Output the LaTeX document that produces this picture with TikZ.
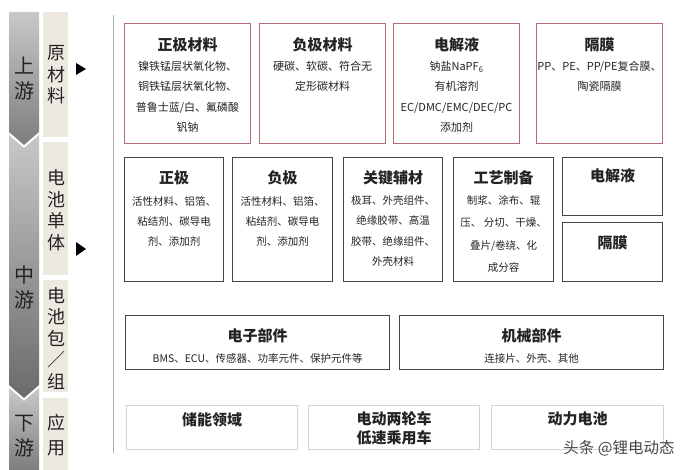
\documentclass[tikz,border=0pt]{standalone}
\usepackage{fontspec}
\usepackage{xcolor}
\setmainfont{Noto Sans CJK SC}
\definecolor{Chain-Red}{RGB}{178, 108, 114}
\definecolor{Chain-Dark}{RGB}{70, 70, 70}
\definecolor{Chain-Light}{RGB}{212, 212, 212}
\definecolor{Chain-Beige}{RGB}{237, 233, 225}
\definecolor{Chain-Rule}{RGB}{175, 175, 175}
\definecolor{Chain-Top}{RGB}{200, 200, 200}
\definecolor{Chain-Bottom}{RGB}{125, 125, 125}
\definecolor{Chain-Text}{RGB}{35, 35, 35}

\tikzset{
    rawbox/.style={draw=Chain-Red, line width=1.1pt, inner sep=0pt},
    cellbox/.style={draw=Chain-Dark, line width=1.2pt, inner sep=0pt},
    usebox/.style={draw=Chain-Light, line width=1.1pt, inner sep=0pt},
    boxtitle/.style={anchor=north, inner sep=0pt, align=center, text=Chain-Text,
        font=\fontsize{15}{19}\selectfont\bfseries},
    boxtext/.style={anchor=north, inner sep=0pt, align=center, text=Chain-Text,
        font=\fontsize{11}{20.5}\selectfont},
    stagetext/.style={inner sep=0pt, align=center, text=Chain-Text,
        font=\fontsize{20}{25}\selectfont},
    parttext/.style={inner sep=0pt, align=center, text=Chain-Text,
        font=\fontsize{18}{21.5}\selectfont},
    beigebar/.style={fill=Chain-Beige, draw=none, inner sep=0pt, anchor=north west, minimum width=25pt}
}

\begin{document}
\begin{tikzpicture}[x=1pt, y=-1pt]

    \useasboundingbox (0,0) rectangle (697,470);

    % stages
    \shade[top color=Chain-Top, bottom color=Chain-Bottom] (9,12) -- (39,12) -- (39,132) -- (24,145) -- (9,132) -- cycle;
    \shade[top color=Chain-Top, bottom color=Chain-Bottom!85!black] (9,135) -- (24,148) -- (39,135) -- (39,385) -- (24,398) -- (9,385) -- cycle;
    \shade[top color=Chain-Top, bottom color=Chain-Bottom] (9,388) -- (24,401) -- (39,388) -- (39,470) -- (9,470) -- cycle;

    \node[stagetext] (up) at (24,79) {上\\游};
    \node[stagetext] (mid) at (24,287) {中\\游};
    \node[stagetext] (down) at (24,436) {下\\游};

    \node[beigebar, minimum height=125pt] (rawbar) at (43,12) {};
    \node[beigebar, minimum height=133pt] (cellbar) at (43,142) {};
    \node[beigebar, minimum height=112pt] (packbar) at (43,280) {};
    \node[beigebar, minimum height=72pt] (appbar) at (43,398) {};

    \node[parttext] (raw) at (56,75) {原\\材\\料};
    \node[parttext] (cell) at (56,210) {电\\池\\单\\体};
    \node[parttext] (pack) at (56,338) {电\\池\\包\\／\\组};
    \node[parttext, font=\fontsize{18}{25}\selectfont] (app) at (56,435) {应\\用};

    \fill (76,63) -- (86,69) -- (76,75) -- cycle;
    \fill (76,242) -- (86,249) -- (76,256) -- cycle;

    \draw[Chain-Rule, line width=1pt] (113,15) -- (113,453);

    % raw materials
    \node[rawbox, minimum width=126pt, minimum height=120pt, anchor=north west] (cathodemat) at (124,23) {};
    \node[rawbox, minimum width=126pt, minimum height=120pt, anchor=north west] (anodemat) at (259,23) {};
    \node[rawbox, minimum width=126pt, minimum height=120pt, anchor=north west] (electrolytemat) at (393,23) {};
    \node[rawbox, minimum width=126pt, minimum height=120pt, anchor=north west] (separatormat) at (536,23) {};

    \node[boxtitle] at ([yshift=-14pt]cathodemat.north) {正极材料};
    \node[boxtext] at ([yshift=-38pt]cathodemat.north) {镍铁锰层状氧化物、\\铜铁锰层状氧化物、\\普鲁士蓝/白、氟磷酸\\钒钠};
    \node[boxtitle] at ([yshift=-14pt]anodemat.north) {负极材料};
    \node[boxtext] at ([yshift=-38pt]anodemat.north) {硬碳、软碳、符合无\\定形碳材料};
    \node[boxtitle] at ([yshift=-14pt]electrolytemat.north) {电解液};
    \node[boxtext] at ([yshift=-38pt]electrolytemat.north) {钠盐NaPF\textsubscript{6}\\有机溶剂\\EC/DMC/EMC/DEC/PC\\添加剂};
    \node[boxtitle] at ([yshift=-14pt]separatormat.north) {隔膜};
    \node[boxtext] at ([yshift=-38pt]separatormat.north) {PP、PE、PP/PE复合膜、\\陶瓷隔膜};

    % battery cell
    \node[cellbox, minimum width=99pt, minimum height=124pt, anchor=north west] (cathode) at (124,157) {};
    \node[cellbox, minimum width=100pt, minimum height=124pt, anchor=north west] (anode) at (232,157) {};
    \node[cellbox, minimum width=99pt, minimum height=124pt, anchor=north west] (keyaux) at (343,157) {};
    \node[cellbox, minimum width=100pt, minimum height=124pt, anchor=north west] (process) at (453,157) {};
    \node[cellbox, minimum width=100pt, minimum height=58pt, anchor=north west] (electrolyte) at (562,157) {};
    \node[cellbox, minimum width=100pt, minimum height=59pt, anchor=north west] (separator) at (562,222) {};

    \node[boxtitle] at ([yshift=-13pt]cathode.north) {正极};
    \node[boxtext, font=\fontsize{10.5}{20}\selectfont] at ([yshift=-39pt]cathode.north) {活性材料、铝箔、\\粘结剂、碳导电\\剂、添加剂};
    \node[boxtitle] at ([yshift=-13pt]anode.north) {负极};
    \node[boxtext, font=\fontsize{10.5}{20}\selectfont] at ([yshift=-39pt]anode.north) {活性材料、铝箔、\\粘结剂、碳导电\\剂、添加剂};
    \node[boxtitle] at ([yshift=-13pt]keyaux.north) {关键辅材};
    \node[boxtext, font=\fontsize{10.5}{20.5}\selectfont] at ([yshift=-38pt]keyaux.north) {极耳、外壳组件、\\绝缘胶带、高温\\胶带、绝缘组件、\\外壳材料};
    \node[boxtitle] at ([yshift=-13pt]process.north) {工艺制备};
    \node[boxtext, font=\fontsize{10.5}{22.5}\selectfont] at ([yshift=-38pt]process.north) {制浆、涂布、辊\\压、 分切、干燥、\\叠片/卷绕、化\\成分容};
    \node[boxtitle] at ([yshift=-11pt]electrolyte.north) {电解液};
    \node[boxtitle] at ([yshift=-13pt]separator.north) {隔膜};

    % battery pack
    \node[cellbox, minimum width=264pt, minimum height=54pt, anchor=north west] (electronic) at (125,315) {};
    \node[cellbox, minimum width=264pt, minimum height=54pt, anchor=north west] (mechanical) at (399,315) {};

    \node[boxtitle] at ([yshift=-13pt]electronic.north) {电子部件};
    \node[boxtext, font=\fontsize{10.5}{20}\selectfont] at ([yshift=-38pt]electronic.north) {BMS、ECU、传感器、功率元件、保护元件等};
    \node[boxtitle] at ([yshift=-13pt]mechanical.north) {机械部件};
    \node[boxtext, font=\fontsize{10.5}{20}\selectfont] at ([yshift=-38pt]mechanical.north) {连接片、外壳、其他};

    % applications
    \node[usebox, minimum width=171pt, minimum height=44pt, anchor=north west] (storage) at (126,405) {};
    \node[usebox, minimum width=171pt, minimum height=44pt, anchor=north west] (twowheel) at (308,405) {};
    \node[usebox, minimum width=172pt, minimum height=44pt, anchor=north west] (power) at (491,405) {};

    \node[boxtitle] at ([yshift=-7pt]storage.north) {储能领域};
    \node[boxtitle] at ([yshift=-6pt]twowheel.north) {电动两轮车\\低速乘用车};
    \node[boxtitle] at ([yshift=-7pt]power.north) {动力电池};

    \node[text=Chain-Dark, inner sep=0pt, font=\fontsize{15.5}{18}\selectfont] (mark) at (619,448) {头条 @锂电动态};

\end{tikzpicture}
\end{document}
